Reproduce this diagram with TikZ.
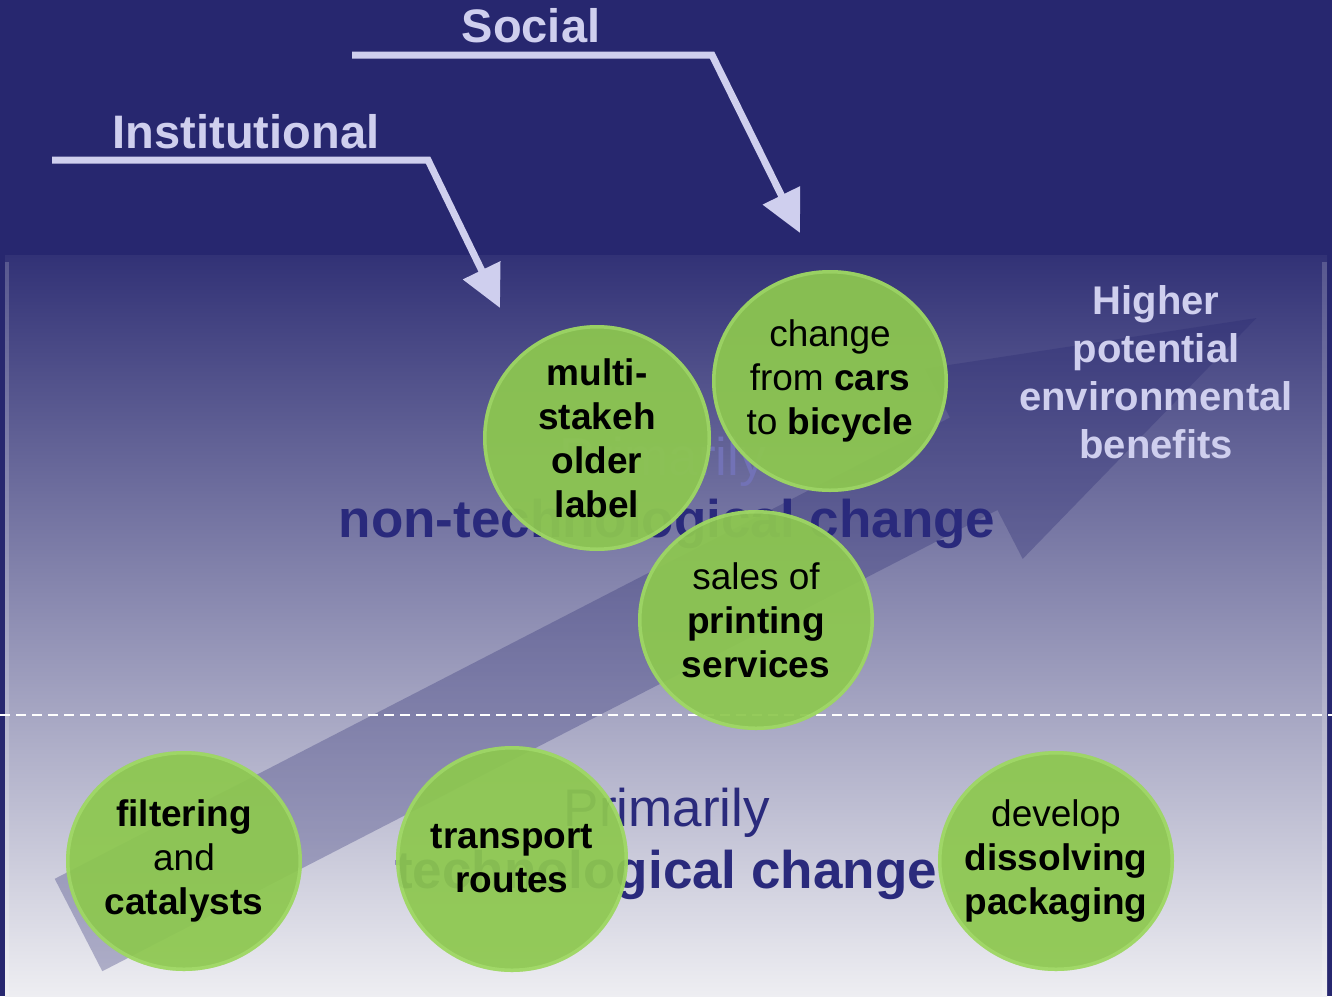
\documentclass[tikz,border=0pt]{standalone}
\usepackage{xcolor}
\usepackage{fontspec}
\setmainfont{Liberation Sans}
\usepackage{tikz}
\usetikzlibrary{arrows.meta,shapes.geometric,calc}

\definecolor{deepnavy}{HTML}{27276F}
\definecolor{panelmid}{HTML}{8686AE}
\definecolor{panelbot}{HTML}{EEEEF2}
\definecolor{lilac}{HTML}{CFCFEE}
\definecolor{dimlilac}{HTML}{7272B6}
\definecolor{inkblue}{HTML}{2A2A7C}
\definecolor{leaf}{HTML}{8DC84F}
\definecolor{leafrim}{HTML}{B6EE7E}

\begin{document}
\begin{tikzpicture}[x=1pt,y=-1pt,
			disc/.style={ellipse,fill=leaf,fill opacity=.93,text opacity=1,
				minimum width=236pt,minimum height=226pt,inner xsep=-30pt,inner ysep=-40pt,
				align=center,font=\fontsize{37}{44}\selectfont,
				path picture={\draw[leafrim,line width=7pt,opacity=.4]
					let \p1=(path picture bounding box.north east),\p2=(path picture bounding box.center)
					in (\p2) ellipse [x radius=\x1-\x2,y radius=\y1-\y2];}},
			lever/.style={lilac,line width=7pt,-{Triangle[length=42pt,width=40pt]}},
			tag/.style={lilac,anchor=base,font=\fontsize{47}{56}\selectfont\bfseries},
			band/.style={inkblue,anchor=base,font=\fontsize{53}{62}\selectfont}]
	\useasboundingbox (0,0) rectangle (1332,996);
	% background
	\fill[deepnavy] (0,0) rectangle (1332,996);
	\fill[top color=deepnavy!95!white,middle color=panelmid,bottom color=panelbot] (5,255) rectangle (1327,996);
	\fill[white,opacity=.18] (5,262) rectangle (9,996);
	\fill[white,opacity=.18] (1322,262) rectangle (1327,996);
	% big arrow
	\fill[deepnavy,opacity=.3] (54.7,878.8) -- (949.9,417.6) -- (924.7,368.7) -- (1256.5,318)
		-- (1022.7,558.9) -- (997.5,510) -- (102.3,971.2) -- cycle;
	\draw[white,line width=2pt,dash pattern=on 10pt off 6pt] (0,715) -- (1332,715);

	\node[band,text=dimlilac] (prim-a) at (663,475) {Primarily};
	\node[band] (nontech) at (667,537) {\textbf{non-technological change}};
	\node[band] (prim-b) at (667,826) {Primarily};
	\node[band] (tech) at (666,888) {\textbf{technological change}};

	\node[disc,minimum width=228pt] (stake) at (597,438)
		{\textbf{multi-}\\\textbf{stakeh}\\\textbf{older}\\\textbf{label}};
	\node[disc,minimum height=222pt] (bike) at (830,381) {change\\from \textbf{cars}\\to \textbf{bicycle}};
	\node[disc,minimum height=220pt] (print) at (756,620) {sales of\\\textbf{printing}\\\textbf{services}};
	\node[disc,minimum height=220pt] (filter) at (184,861) {\textbf{filtering}\\and\\\textbf{catalysts}};
	\node[disc,minimum width=232pt] (route) at (512,859) {\textbf{transport}\\\textbf{routes}};
	\node[disc,minimum height=220pt] (pack) at (1056,861) {develop\\\textbf{dissolving}\\\textbf{packaging}};

	\node[lilac,align=center,font=\fontsize{40}{48}\selectfont\bfseries] (benefit) at (1156,372)
		{Higher\\potential\\environmental\\benefits};

	% drivers
	\coordinate (soc-start) at (352,55);
	\coordinate (soc-bend) at (712,55);
	\coordinate (soc-tip) at (800,233);
	\coordinate (inst-start) at (52,160);
	\coordinate (inst-bend) at (428,160);
	\coordinate (inst-tip) at (500,308);
	\node[tag] (social) at (531,42) {Social};
	\node[tag] (institutional) at (246,148) {Institutional};
	\draw[lever] (soc-start) -- (soc-bend) -- (soc-tip);
	\draw[lever] (inst-start) -- (inst-bend) -- (inst-tip);
\end{tikzpicture}
\end{document}
